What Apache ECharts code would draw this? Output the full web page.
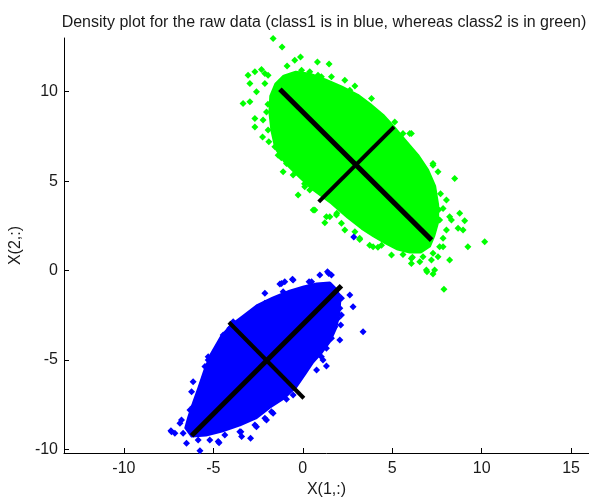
<!DOCTYPE html>
<html>
<head>
<meta charset="utf-8">
<script src="https://cdn.jsdelivr.net/npm/echarts@6/dist/echarts.min.js"></script>
<style>
  html, body { margin: 0; padding: 0; background: #fff; }
  #chart { width: 589px; height: 497px; }
</style>
</head>
<body>
<div id="chart"></div>
<script>
// Axis ticks
const xTicks = [-10, -5, 0, 5, 10, 15];
const yTicks = [-10, -5, 0, 5, 10];

// Outline of the dense core of class2 (green), in data units
const class2Core = [
  [-1.79, 9.75], [-1.51, 10.42], [-1.06, 10.87], [-0.39, 11.09], [0.39, 10.98],
  [1.28, 10.64], [2.18, 10.25], [3.07, 9.80], [3.74, 9.30], [4.47, 8.69],
  [5.08, 8.02], [5.70, 7.29], [6.42, 6.45], [6.98, 5.61], [7.37, 4.72],
  [7.54, 3.66], [7.54, 2.71], [7.32, 1.93], [7.09, 1.37], [6.59, 1.03],
  [5.98, 1.03], [5.31, 1.20], [4.64, 1.54], [3.97, 1.93], [3.30, 2.37],
  [2.51, 2.99], [1.62, 3.77], [0.56, 4.55], [-0.28, 5.34], [-0.95, 6.01],
  [-1.51, 6.84], [-1.73, 7.85], [-1.84, 8.85]
];

// Sparse class2 samples around the core
const class2Points = [
  [-1.66, 12.97], [-1.16, 12.50], [-0.13, 11.94], [-0.45, 11.76], [0.82, 11.66],
  [1.47, 11.54], [-0.88, 11.44], [-2.31, 11.24], [-2.68, 11.11], [-3.06, 10.92],
  [-2.12, 11.02], [-0.07, 11.20], [0.39, 11.11], [0.85, 10.92], [2.35, 10.64],
  [-2.96, 10.46], [-2.12, 10.46], [-2.59, 9.99], [-3.34, 9.34], [-2.96, 9.43],
  [2.63, 10.08], [2.91, 10.31], [3.84, 9.62], [-2.68, 8.50], [-2.22, 8.41],
  [-2.68, 8.03], [-2.25, 7.47], [5.14, 8.31], [5.60, 7.66], [6.07, 7.66],
  [6.35, 6.36], [7.28, 5.89], [7.56, 5.52], [8.49, 5.15], [-0.26, 4.22],
  [0.58, 3.38], [1.32, 3.01], [1.23, 2.67], [2.35, 2.26], [3.18, 1.74],
  [3.93, 1.33], [4.96, 0.87], [6.07, 0.40], [6.91, 0.03], [7.37, 0.03],
  [7.19, 0.59], [7.84, 1.33], [8.31, 2.82], [8.77, 3.20], [8.96, 2.26],
  [9.23, 1.33], [8.21, 0.59], [10.17, 1.61], [7.89, -1.05], [7.56, 0.77],
  [9.05, 2.78], [8.68, 2.36], [6.94, -0.07], [7.28, -0.20], [6.54, 0.49],
  [6.13, 0.74], [-1.95, 9.30], [-1.90, 7.20], [-1.20, 6.30], [0.10, 4.85],
  [1.90, 3.20], [4.20, 1.30], [5.60, 0.90], [7.60, 3.40], [7.70, 4.30],
  [-1.94, 10.92], [1.04, 10.83], [1.60, 10.83], [-2.03, 8.87], [-1.94, 7.85],
  [-1.56, 6.92], [-1.38, 6.45], [-0.91, 5.99], [-1.10, 5.52], [-0.54, 5.34],
  [0.67, 3.38], [1.51, 3.01], [1.88, 3.10], [2.16, 2.64], [2.91, 2.17],
  [3.74, 1.42], [0.39, 4.50], [0.11, 4.68], [5.98, 7.66], [7.28, 5.99],
  [7.09, 4.96], [8.03, 3.94], [7.84, 3.47], [8.21, 3.01], [7.65, 2.82],
  [8.03, 2.26], [7.84, 1.80], [7.65, 1.33], [7.28, 0.96], [6.72, 0.77],
  [6.07, 0.68], [4.40, 1.42], [3.18, 1.80]
];

// Outline of the dense core of class1 (blue), in data units
const class1Core = [
  [-4.53, -3.66], [-3.97, -3.04], [-3.30, -2.54], [-2.57, -1.98], [-1.68, -1.54],
  [-0.73, -1.15], [0.06, -0.92], [0.78, -0.75], [1.51, -0.70], [1.90, -1.09],
  [2.07, -1.65], [2.01, -2.43], [1.84, -3.21], [1.51, -3.94], [1.06, -4.55],
  [0.56, -5.11], [0.11, -5.78], [-0.39, -6.51], [-1.06, -7.12], [-1.84, -7.63],
  [-2.63, -8.24], [-3.52, -8.63], [-4.53, -8.97], [-5.42, -9.19], [-6.20, -9.25],
  [-6.54, -8.80], [-6.37, -8.18], [-6.09, -7.35], [-5.81, -6.56], [-5.47, -5.56],
  [-5.14, -4.72]
];

// Sparse class1 samples around the core
const class1Points = [
  [1.38, -0.07], [1.60, -0.25], [0.95, -0.25], [0.49, -0.63], [-0.54, -0.53],
  [-1.01, -0.63], [-1.28, -0.75], [-2.12, -1.27], [2.63, -1.37], [2.81, -2.02],
  [2.16, -1.55], [3.37, -3.42], [2.12, -3.04], [2.16, -2.49], [-2.12, -1.83],
  [-3.89, -2.86], [-4.08, -3.23], [-4.73, -4.26], [-5.29, -5.00], [-5.47, -5.37],
  [-6.13, -6.21], [-6.22, -6.77], [-6.31, -7.79], [-6.87, -8.54], [-7.34, -9.01],
  [-6.69, -9.09], [-6.50, -9.65], [-5.85, -9.47], [-4.73, -9.56], [-3.52, -9.01],
  [-2.68, -8.63], [-2.03, -8.35], [-1.66, -7.98], [-0.91, -7.20], [-0.54, -6.96],
  [0.77, -5.56], [1.60, -3.79], [2.07, -3.88], [1.13, -5.00], [-5.75, -10.07],
  [-4.97, -10.21], [-4.68, -9.62], [-2.92, -9.37], [-2.59, -8.73], [-3.46, -9.01],
  [-7.15, -9.09], [-7.37, -8.95], [-5.38, -5.37], [-4.82, -5.18], [1.32, -5.34],
  [1.45, -0.16], [0.35, -0.63], [-0.58, -0.49], [-2.55, -2.08], [2.85, 1.87],
  [-1.19, -0.72], [1.97, -1.37], [2.07, -2.11], [1.97, -2.67], [1.79, -3.14],
  [1.32, -4.35], [1.04, -4.82], [0.49, -5.00], [-1.66, -1.74], [-1.10, -1.18],
  [-4.45, -3.60], [-5.29, -4.82], [-6.13, -7.61], [-6.78, -8.35], [-4.36, -9.19],
  [-2.12, -8.26], [-1.75, -7.89], [-1.19, -7.05], [-3.42, -9.28], [-5.20, -9.47]
];

// Principal axes of each class (end points)
const class2Major = [[-1.28, 10.14], [7.20, 1.70]];
const class2Minor = [[0.89, 3.84], [5.10, 8.03]];
const class1Major = [[-6.22, -9.23], [2.16, -0.85]];
const class1Minor = [[-4.13, -2.89], [0.06, -7.14]];

const GREEN = '#00ff00';
const BLUE = '#0000ff';
const FONT = 'Liberation Sans, Arial, sans-serif';
const TEXT = '#1a1a1a';

function coreSeries(outline, color) {
  return {
    type: 'custom',
    coordinateSystem: 'cartesian2d',
    data: [outline[0]],
    silent: true,
    renderItem: function (params, api) {
      return {
        type: 'polygon',
        shape: { points: outline.map(function (p) { return api.coord(p); }) },
        style: { fill: color, stroke: color, lineWidth: 3, lineJoin: 'round' }
      };
    },
    z: 2
  };
}

function pointSeries(points, color) {
  return {
    type: 'scatter',
    data: points,
    symbol: 'diamond',
    symbolSize: [7, 7],
    itemStyle: { color: color, opacity: 1 },
    silent: true,
    z: 3
  };
}

function axisLine(points, width) {
  return {
    type: 'line',
    data: points,
    symbol: 'none',
    lineStyle: { color: '#000', width: width, cap: 'butt' },
    silent: true,
    z: 5
  };
}

const chart = echarts.init(document.getElementById('chart'), null, { renderer: 'canvas' });
chart.setOption({
  animation: false,
  backgroundColor: '#fff',
  title: {
    text: 'Density plot for the raw data (class1 is in blue, whereas class2 is in green)',
    left: 319,
    textAlign: 'center',
    top: 10,
    textStyle: { fontFamily: FONT, fontSize: 16, fontWeight: 'normal', color: TEXT }
  },
  grid: { left: 64, right: 0, top: 38, bottom: 44, containLabel: false, outerBoundsMode: 'none' },
  xAxis: {
    type: 'value',
    min: -13.35,
    max: 16,
    name: 'X(1,:)',
    nameLocation: 'middle',
    nameGap: 27,
    nameTextStyle: { fontFamily: FONT, fontSize: 16, color: TEXT },
    axisLine: { show: true, onZero: false, lineStyle: { color: '#000', width: 1 } },
    axisTick: { show: true, inside: true, length: 5, customValues: xTicks, lineStyle: { color: '#000' } },
    axisLabel: { customValues: xTicks, fontFamily: FONT, fontSize: 16, color: TEXT, margin: 8 },
    splitLine: { show: false }
  },
  yAxis: {
    type: 'value',
    min: -10.2,
    max: 13,
    name: 'X(2,:)',
    nameLocation: 'middle',
    nameGap: 30,
    nameRotate: 90,
    nameTextStyle: { fontFamily: FONT, fontSize: 16, color: TEXT },
    axisLine: { show: true, onZero: false, lineStyle: { color: '#000', width: 1 } },
    axisTick: { show: true, inside: true, length: 5, customValues: yTicks, lineStyle: { color: '#000' } },
    axisLabel: { customValues: yTicks, fontFamily: FONT, fontSize: 16, color: TEXT, margin: 6 },
    splitLine: { show: false }
  },
  series: [
    coreSeries(class2Core, GREEN),
    pointSeries(class2Points, GREEN),
    coreSeries(class1Core, BLUE),
    pointSeries(class1Points, BLUE),
    axisLine(class2Major, 5),
    axisLine(class2Minor, 4),
    axisLine(class1Major, 5),
    axisLine(class1Minor, 4)
  ]
});
</script>
</body>
</html>
